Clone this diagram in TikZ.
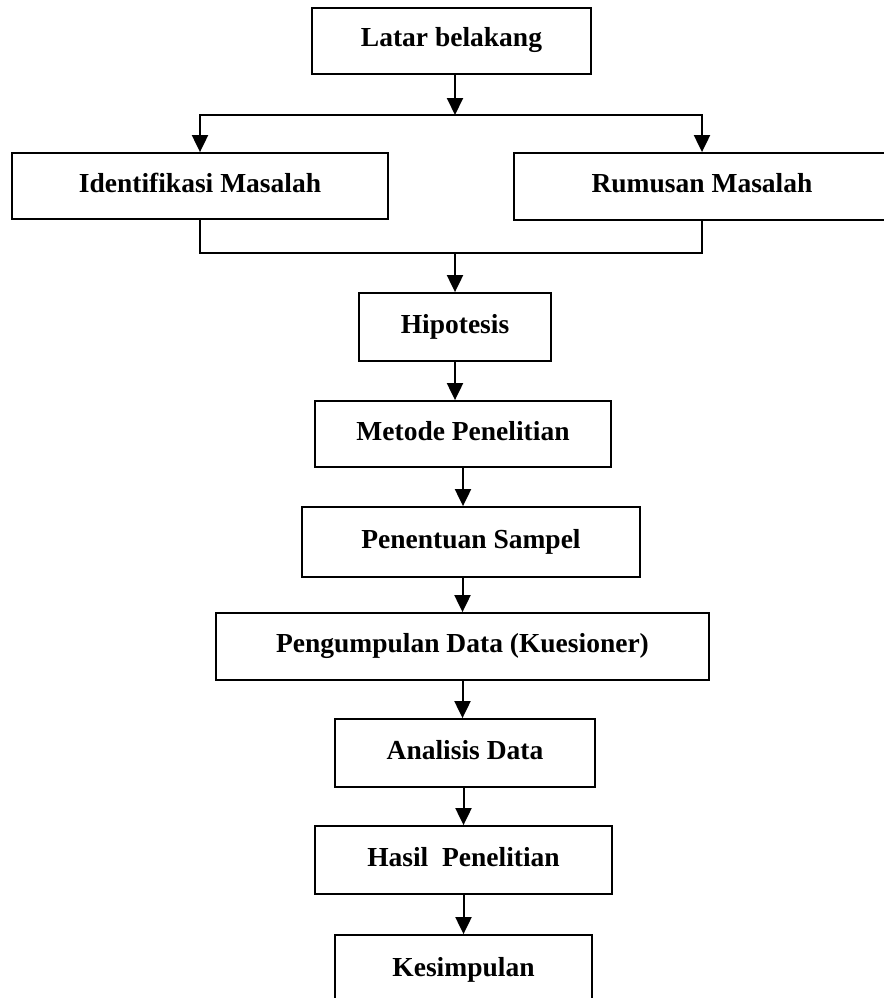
\documentclass[tikz,border=0pt]{standalone}
\usepackage{fontspec}
\setmainfont{Liberation Serif}
\usetikzlibrary{arrows.meta}
\usetikzlibrary{positioning}
\tikzstyle{block} = [
	draw,
	rectangle,
	line width = 1.8pt,
	inner sep = 0pt,
	text height = 19pt,
	text depth = 7pt,
	font = \fontsize{27.5}{30}\selectfont\bfseries
]
\tikzstyle{input} = [coordinate]
\tikzstyle{link} = [line width = 2pt]
\tikzstyle{flow} = [line width = 2pt, -{Triangle[width=16pt,length=17pt]}]

\begin{document}
\begin{tikzpicture}[x=1pt, y=-1pt]
	\useasboundingbox (0,0) rectangle (883,998);
	\node [block, minimum width=279pt, minimum height=66pt] (latar) at (451.5,41) {Latar belakang};
	\node [block, minimum width=376pt, minimum height=66pt] (ident) at (200,186) {Identifikasi Masalah};
	\node [block, minimum width=376pt, minimum height=67pt] (rumusan) at (702,186.5) {Rumusan Masalah};
	\node [block, minimum width=192pt, minimum height=68pt] (hipo) at (455,327) {Hipotesis};
	\node [block, minimum width=296pt, minimum height=66pt] (metode) at (463,434) {Metode Penelitian};
	\node [block, minimum width=338pt, minimum height=70pt] (sampel) at (471,542) {Penentuan Sampel};
	\node [block, minimum width=493pt, minimum height=67pt] (kumpul) at (462.5,646.5) {Pengumpulan Data (Kuesioner)};
	\node [block, minimum width=260pt, minimum height=68pt] (analisis) at (465,753) {Analisis Data};
	\node [block, minimum width=297pt, minimum height=68pt] (hasil) at (463.5,860) {Hasil\ \ Penelitian};
	\node [block, minimum width=257pt, minimum height=70pt] (simpul) at (463.5,970) {Kesimpulan};
	\node [input, name=split] at (455,115) {};
	\node [input, name=merge] at (455,253) {};
	
	\draw[flow] (latar.south -| split) -- (split);
	\draw[flow] (split) -| (ident.north);
	\draw[flow] (split) -| (rumusan.north);
	\draw[link] (ident.south) |- (merge);
	\draw[link] (rumusan.south) |- (merge);
	\draw[flow] (merge) -- (hipo.north);
	\draw[flow] (hipo.south) -- (hipo.south |- metode.north);
	\draw[flow] (metode.south) -- (metode.south |- sampel.north);
	\draw[flow] (sampel.south -| kumpul.north) -- (kumpul.north);
	\draw[flow] (kumpul.south) -- (kumpul.south |- analisis.north);
	\draw[flow] (analisis.south -| hasil.north) -- (hasil.north);
	\draw[flow] (hasil.south) -- (simpul.north);
	
\end{tikzpicture}
\end{document}
